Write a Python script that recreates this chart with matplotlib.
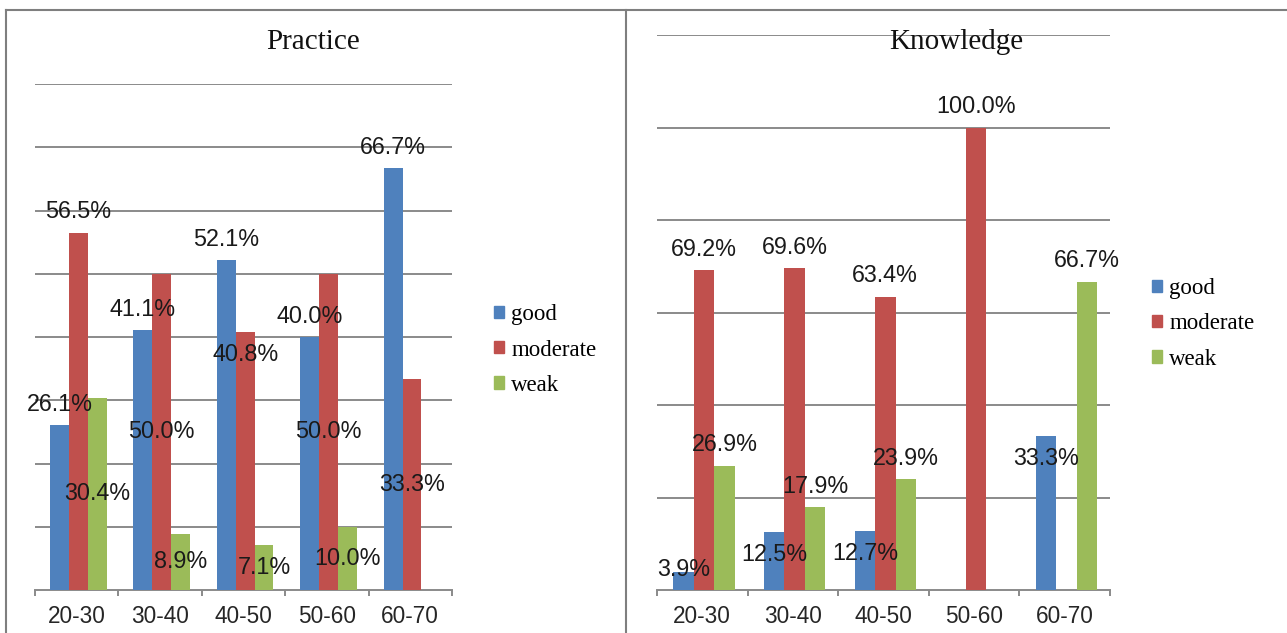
import matplotlib
matplotlib.use('Agg')
import matplotlib.pyplot as plt
import matplotlib.lines as mlines
import matplotlib.patches as mpatches
import numpy as np

# age groups and percentage of respondents per level
age_groups = ['20-30', '30-40', '40-50', '50-60', '60-70']
levels = ['good', 'moderate', 'weak']

practice_good = [26.1, 41.1, 52.1, 40.0, 66.7]
practice_moderate = [56.5, 50.0, 40.8, 50.0, 33.3]
practice_weak = [30.4, 8.9, 7.1, 10.0, 0.0]

knowledge_good = [3.9, 12.5, 12.7, 0.0, 33.3]
knowledge_moderate = [69.2, 69.6, 63.4, 100.0, 0.0]
knowledge_weak = [26.9, 17.9, 23.9, 0.0, 66.7]

# where each value label sits relative to its bar
practice_label_pos = [
    ['above', 'above', 'above', 'above', 'above'],
    ['above', 'mid', 'below', 'mid', 'mid'],
    ['mid', 'mid', 'mid', 'mid', None],
]
knowledge_label_pos = [
    ['top', 'below', 'below', None, 'below'],
    ['above', 'above', 'above', 'above', None],
    ['above', 'above', 'above', None, 'above'],
]

colors = ['#4F81BD', '#C0504D', '#9BBB59']
grid_color = '#8A8A8A'
label_offsets = {'above': 15, 'below': -16, 'top': 1.5, 'mid': 0}

W, H = 1287, 633
fig = plt.figure(figsize=(W / 100, H / 100), dpi=100)
fig.patch.set_facecolor('white')


def px_rect(left, top, right, bottom):
    return [left / W, 1 - bottom / H, (right - left) / W, (bottom - top) / H]


def draw_panel(ax, series, label_pos, ymax, ystep):
    x = np.arange(len(age_groups))
    bw = 0.226
    for i, vals in enumerate(series):
        xs = x + (i - 1) * bw + 0.02
        ax.bar(xs, vals, width=bw, color=colors[i], zorder=3, label=levels[i])
        for xi, v, pos in zip(xs, vals, label_pos[i]):
            if pos is None or v == 0:
                continue
            y = v / 2 if pos == 'mid' else v
            ax.annotate('%.1f%%' % v, xy=(xi, y), xytext=(0, label_offsets[pos]),
                        textcoords='offset points', ha='center', va='center',
                        fontsize=16.8, family='Liberation Sans', color='#1a1a1a',
                        zorder=5, annotation_clip=False)
    ax.set_xlim(-0.5, len(age_groups) - 0.5)
    ax.set_ylim(0, ymax)
    ax.set_yticks(np.arange(ystep, ymax + 0.1, ystep))
    ax.yaxis.grid(True, color=grid_color, linewidth=1.4, zorder=0)
    ax.tick_params(axis='y', length=0, labelleft=False)
    ax.set_xticks(x)
    ax.set_xticklabels(age_groups, family='Liberation Sans', fontsize=16.3,
                       color='#262626')
    ax.set_xticks(np.arange(-0.5, len(age_groups)), minor=True)
    ax.tick_params(axis='x', which='major', length=0, pad=11)
    ax.tick_params(axis='x', which='minor', length=4.5, width=1.4,
                   color=grid_color, direction='out')
    for s in ['top', 'left', 'right']:
        ax.spines[s].set_visible(False)
    ax.spines['bottom'].set_color(grid_color)
    ax.spines['bottom'].set_linewidth(1.4)
    ax.set_facecolor('none')


ax1 = fig.add_axes(px_rect(35, 84, 452, 590))
draw_panel(ax1, [practice_good, practice_moderate, practice_weak],
           practice_label_pos, 80, 10)
ax2 = fig.add_axes(px_rect(657, 35, 1110, 590))
draw_panel(ax2, [knowledge_good, knowledge_moderate, knowledge_weak],
           knowledge_label_pos, 120, 20)

fig.text(313 / W, 1 - 42 / H, 'Practice', ha='center', va='center',
         family='Liberation Serif', fontsize=21, color='#111111')
fig.text(956 / W, 1 - 42 / H, 'Knowledge', ha='center', va='center',
         family='Liberation Serif', fontsize=21, color='#111111')

handles = [mpatches.Patch(color=c, label=l) for c, l in zip(colors, levels)]
for lx, ly in [(494, 350), (1152, 324)]:
    fig.legend(handles=handles, loc='center left',
               bbox_to_anchor=(lx / W, 1 - ly / H), frameon=False,
               prop={'family': 'Liberation Serif', 'size': 16.5},
               handlelength=0.45, handleheight=0.45, handletextpad=0.3,
               labelspacing=0.62, borderpad=0, borderaxespad=0)

# outer frame and panel divider
frame_kw = dict(color='#7F7F7F', linewidth=1.5, transform=fig.transFigure)
fig.add_artist(mlines.Line2D([6 / W, 1], [1 - 10 / H, 1 - 10 / H], **frame_kw))
fig.add_artist(mlines.Line2D([6 / W, 6 / W], [0, 1 - 10 / H], **frame_kw))
fig.add_artist(mlines.Line2D([626 / W, 626 / W], [0, 1 - 10 / H], **frame_kw))

fig.savefig('out.png', dpi=100)
